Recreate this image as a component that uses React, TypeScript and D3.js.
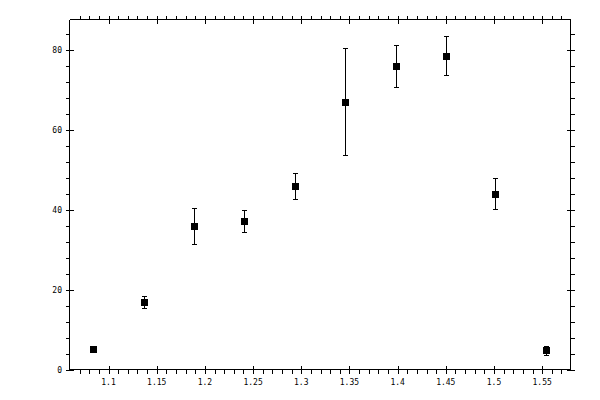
import React from "react";
import * as d3 from "d3";

const xValues = [1.0834, 1.1363, 1.1882, 1.2401, 1.293, 1.3449, 1.3982, 1.45, 1.5015, 1.5542];
const yValues = [5.2, 17.0, 36.0, 37.3, 46.0, 67.1, 76.1, 78.6, 44.0, 4.9];
const yLow = [4.6, 15.5, 31.5, 34.5, 42.8, 53.8, 70.9, 73.9, 40.3, 3.7];
const yHigh = [5.8, 18.5, 40.5, 40.0, 49.3, 80.6, 81.3, 83.5, 48.0, 5.9];
const xTicks = [1.1, 1.15, 1.2, 1.25, 1.3, 1.35, 1.4, 1.45, 1.5, 1.55];
const yTicks = [0, 20, 40, 60, 80];

export default function App() {
  const W = 600, H = 400;
  const L = 69.5, R = 570.5, T = 19.5, B = 369.5;
  const x = d3.scaleLinear().domain([1.0595, 1.5794]).range([L, R]);
  const y = d3.scaleLinear().domain([0, 87.7]).range([B, T]);
  const xMinor = d3.range(106, 158).map((v) => v / 100).filter((v) => x(v) > L + 1 && x(v) < R - 1);
  const yMinor = d3.range(0, 88, 4).filter((v) => y(v) > T + 1);
  const isMajorX = (v: number) => xTicks.some((t) => Math.abs(t - v) < 1e-6);
  const isMajorY = (v: number) => v % 20 === 0;
  const font = "'DejaVu Sans Mono', monospace";
  return (
    <svg width={W} height={H} style={{ position: "absolute", left: 0, top: 0 }}>
      <rect width={W} height={H} fill="white" />
      <g stroke="black" strokeWidth={1} shapeRendering="crispEdges">
        <line x1={L} y1={T} x2={R} y2={T} />
        <line x1={L} y1={B} x2={R} y2={B} />
        <line x1={L} y1={T} x2={L} y2={B} />
        <line x1={R} y1={T} x2={R} y2={B} />
        {xMinor.filter((v) => !isMajorX(v)).map((v, i) => {
          const px = Math.round(x(v)) + 0.5;
          return (
            <g key={"xm" + i}>
              <line x1={px} x2={px} y1={T} y2={T - 4} />
              <line x1={px} x2={px} y1={B} y2={B + 4} />
            </g>
          );
        })}
        {xTicks.map((v, i) => {
          const px = Math.round(x(v)) + 0.5;
          return (
            <g key={"xM" + i}>
              <line x1={px} x2={px} y1={T - 4} y2={T + 4} />
              <line x1={px} x2={px} y1={B - 4} y2={B + 4} />
            </g>
          );
        })}
        {yMinor.filter((v) => !isMajorY(v)).map((v, i) => {
          const py = Math.round(y(v)) + 0.5;
          return (
            <g key={"ym" + i}>
              <line x1={L} x2={L - 4} y1={py} y2={py} />
              <line x1={R} x2={R + 4} y1={py} y2={py} />
            </g>
          );
        })}
        {yTicks.map((v, i) => {
          const py = Math.round(y(v)) + 0.5;
          return (
            <g key={"yM" + i}>
              <line x1={L - 4} x2={L + 4} y1={py} y2={py} />
              <line x1={R - 4} x2={R + 4} y1={py} y2={py} />
            </g>
          );
        })}
      </g>
      <g fontFamily={font} fontSize={8} fill="black">
        {xTicks.map((v, i) => (
          <text key={"xl" + i} x={x(v)} y={385} textAnchor="middle">
            {String(v)}
          </text>
        ))}
        {yTicks.map((v, i) => (
          <text key={"yl" + i} x={62} y={y(v) + 3} textAnchor="end">
            {String(v)}
          </text>
        ))}
      </g>
      <g stroke="black" strokeWidth={1} shapeRendering="crispEdges">
        {xValues.map((xv, i) => {
          const px = Math.round(x(xv)) + 0.5;
          return (
            <g key={"e" + i}>
              <line x1={px} x2={px} y1={y(yLow[i])} y2={y(yHigh[i])} />
              <line x1={px - 2.5} x2={px + 2.5} y1={Math.round(y(yLow[i])) + 0.5} y2={Math.round(y(yLow[i])) + 0.5} />
              <line x1={px - 2.5} x2={px + 2.5} y1={Math.round(y(yHigh[i])) + 0.5} y2={Math.round(y(yHigh[i])) + 0.5} />
            </g>
          );
        })}
      </g>
      <g fill="black">
        {xValues.map((xv, i) => (
          <rect key={"p" + i} x={Math.round(x(xv)) - 3} y={Math.round(y(yValues[i])) - 3} width={7} height={7} />
        ))}
      </g>
    </svg>
  );
}
